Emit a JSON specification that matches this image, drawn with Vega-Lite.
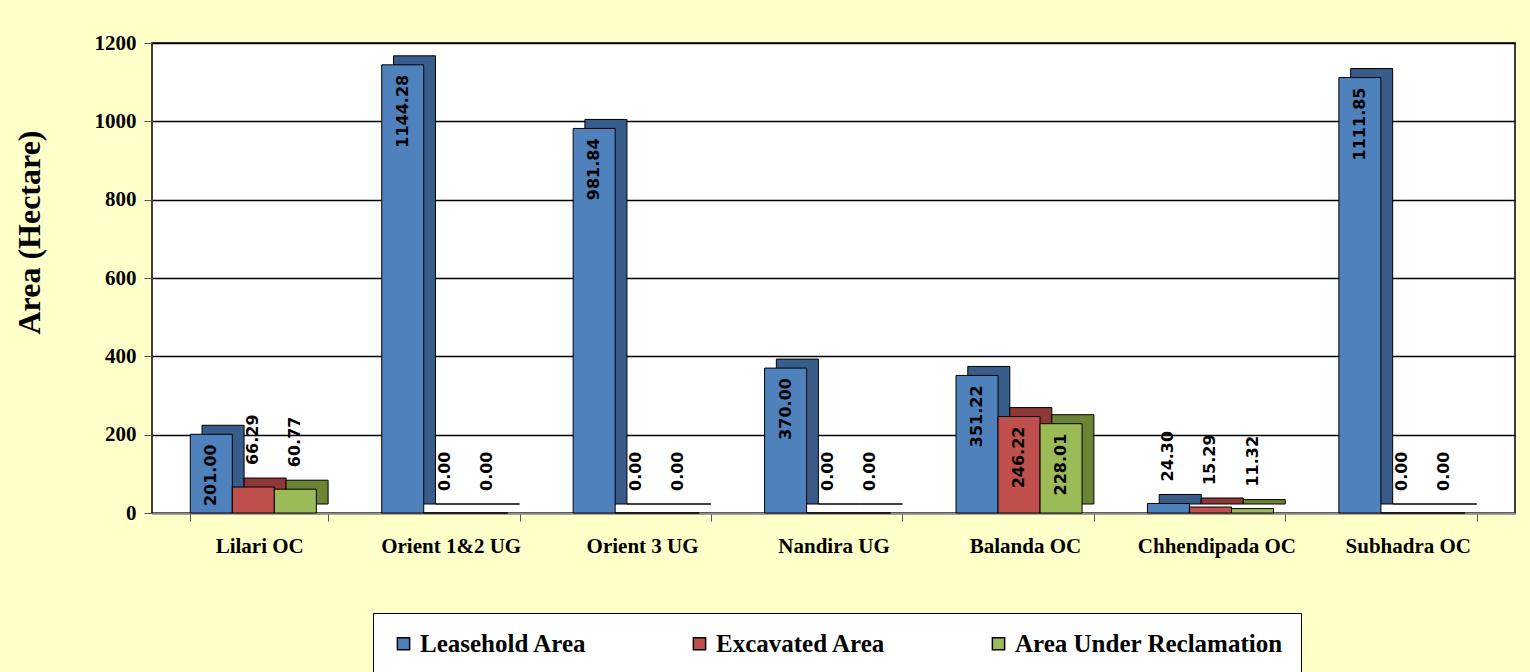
{
  "$schema": "https://vega.github.io/schema/vega-lite/v6.json",
  "width": 1363,
  "height": 470,
  "autosize": {"type": "none"},
  "padding": {"left": 152, "top": 43, "right": 15, "bottom": 159},
  "background": "#FFFFC9",
  "config": {
    "view": {"fill": "white", "stroke": "black", "strokeWidth": 1.5},
    "font": "Liberation Serif"
  },
  "data": {
    "values": [
      {"site": "Lilari OC", "series": "Leasehold Area", "value": 201.00},
      {"site": "Lilari OC", "series": "Excavated Area", "value": 66.29},
      {"site": "Lilari OC", "series": "Area Under Reclamation", "value": 60.77},
      {"site": "Orient 1&2 UG", "series": "Leasehold Area", "value": 1144.28},
      {"site": "Orient 1&2 UG", "series": "Excavated Area", "value": 0},
      {"site": "Orient 1&2 UG", "series": "Area Under Reclamation", "value": 0},
      {"site": "Orient 3 UG", "series": "Leasehold Area", "value": 981.84},
      {"site": "Orient 3 UG", "series": "Excavated Area", "value": 0},
      {"site": "Orient 3 UG", "series": "Area Under Reclamation", "value": 0},
      {"site": "Nandira UG", "series": "Leasehold Area", "value": 370.00},
      {"site": "Nandira UG", "series": "Excavated Area", "value": 0},
      {"site": "Nandira UG", "series": "Area Under Reclamation", "value": 0},
      {"site": "Balanda OC", "series": "Leasehold Area", "value": 351.22},
      {"site": "Balanda OC", "series": "Excavated Area", "value": 246.22},
      {"site": "Balanda OC", "series": "Area Under Reclamation", "value": 228.01},
      {"site": "Chhendipada OC", "series": "Leasehold Area", "value": 24.30},
      {"site": "Chhendipada OC", "series": "Excavated Area", "value": 15.29},
      {"site": "Chhendipada OC", "series": "Area Under Reclamation", "value": 11.32},
      {"site": "Subhadra OC", "series": "Leasehold Area", "value": 1111.85},
      {"site": "Subhadra OC", "series": "Excavated Area", "value": 0},
      {"site": "Subhadra OC", "series": "Area Under Reclamation", "value": 0}
    ]
  },
  "encoding": {
    "x": {
      "field": "site", "type": "nominal",
      "sort": ["Lilari OC", "Orient 1&2 UG", "Orient 3 UG", "Nandira UG", "Balanda OC", "Chhendipada OC", "Subhadra OC"],
      "scale": {"paddingInner": 0.28, "paddingOuter": 0.2},
      "axis": {
        "title": null, "labelAngle": 0, "labelFont": "Liberation Serif", "labelFontWeight": "bold",
        "labelFontSize": 21, "labelColor": "black", "labelPadding": 14, "tickBand": "extent",
        "tickColor": "#555", "tickSize": 8, "domainColor": "#888", "domainWidth": 2, "grid": false
      }
    },
    "y": {
      "field": "value", "type": "quantitative",
      "scale": {"domain": [0, 1200], "nice": false},
      "axis": {
        "title": "Area  (Hectare)", "titleFont": "Liberation Serif", "titleFontWeight": "bold", "titleFontSize": 32,
        "titleColor": "black", "titlePadding": 48, "titleY": 189,
        "values": [0, 200, 400, 600, 800, 1000, 1200], "format": "d",
        "labelFont": "Liberation Serif", "labelFontWeight": "bold", "labelFontSize": 21, "labelColor": "black",
        "labelPadding": 8, "tickSize": 8, "tickColor": "#555", "domain": false,
        "grid": true, "gridColor": "black", "gridWidth": 1.5
      }
    }
  },
  "layer": [
    {
      "mark": {"type": "bar", "yOffset": -9, "stroke": "black", "strokeWidth": 1},
      "encoding": {
        "xOffset": {"field": "series", "type": "nominal", "sort": ["Leasehold Area", "Excavated Area", "Area Under Reclamation"],
          "scale": {"type": "band", "paddingOuter": 0.14, "paddingInner": 0, "align": 1}},
        "color": {
          "field": "series", "type": "nominal", "legend": null,
          "scale": {"domain": ["Leasehold Area", "Excavated Area", "Area Under Reclamation"], "range": ["#385D8A", "#8C3836", "#6B8535"]}
        }
      }
    },
    {
      "mark": {"type": "bar", "stroke": "black", "strokeWidth": 1},
      "encoding": {
        "xOffset": {"field": "series", "type": "nominal", "sort": ["Leasehold Area", "Excavated Area", "Area Under Reclamation"],
          "scale": {"type": "band", "paddingOuter": 0.14, "paddingInner": 0, "align": 0}},
        "color": {
          "field": "series", "type": "nominal",
          "sort": ["Leasehold Area", "Excavated Area", "Area Under Reclamation"],
          "scale": {"domain": ["Leasehold Area", "Excavated Area", "Area Under Reclamation"], "range": ["#4F81BD", "#C0504D", "#9BBB59"]},
          "legend": {
            "title": null, "orient": "none", "legendX": 221, "legendY": 570, "direction": "horizontal",
            "columns": 3, "columnPadding": 100, "padding": 18,
            "fillColor": "white", "strokeColor": "black",
            "symbolType": "square", "symbolSize": 150, "symbolStrokeColor": "black", "symbolStrokeWidth": 1.5,
            "labelFont": "Liberation Serif", "labelFontWeight": "bold", "labelFontSize": 25, "labelColor": "black",
            "labelLimit": 400, "labelOffset": 4
          }
        }
      }
    },
    {
      "transform": [{"filter": "datum.value >= 150"}],
      "mark": {"type": "text", "angle": -90, "align": "right", "baseline": "middle", "dx": -10, "font": "DejaVu Sans", "fontWeight": "bold", "fontSize": 16, "color": "black"},
      "encoding": {
        "xOffset": {"field": "series", "type": "nominal", "sort": ["Leasehold Area", "Excavated Area", "Area Under Reclamation"],
          "scale": {"type": "band", "paddingOuter": 0.14, "paddingInner": 0, "align": 0}},
        "text": {"field": "value", "type": "quantitative", "format": ".2f"}
      }
    },
    {
      "transform": [{"filter": "datum.value < 150"}],
      "mark": {"type": "text", "angle": -90, "align": "left", "baseline": "middle", "dx": 22, "font": "DejaVu Sans", "fontWeight": "bold", "fontSize": 16, "color": "black"},
      "encoding": {
        "xOffset": {"field": "series", "type": "nominal", "sort": ["Leasehold Area", "Excavated Area", "Area Under Reclamation"],
          "scale": {"type": "band", "paddingOuter": 0.14, "paddingInner": 0, "align": 0}},
        "text": {"field": "value", "type": "quantitative", "format": ".2f"}
      }
    }
  ],
  "resolve": {"scale": {"color": "independent", "xOffset": "independent"}}
}
